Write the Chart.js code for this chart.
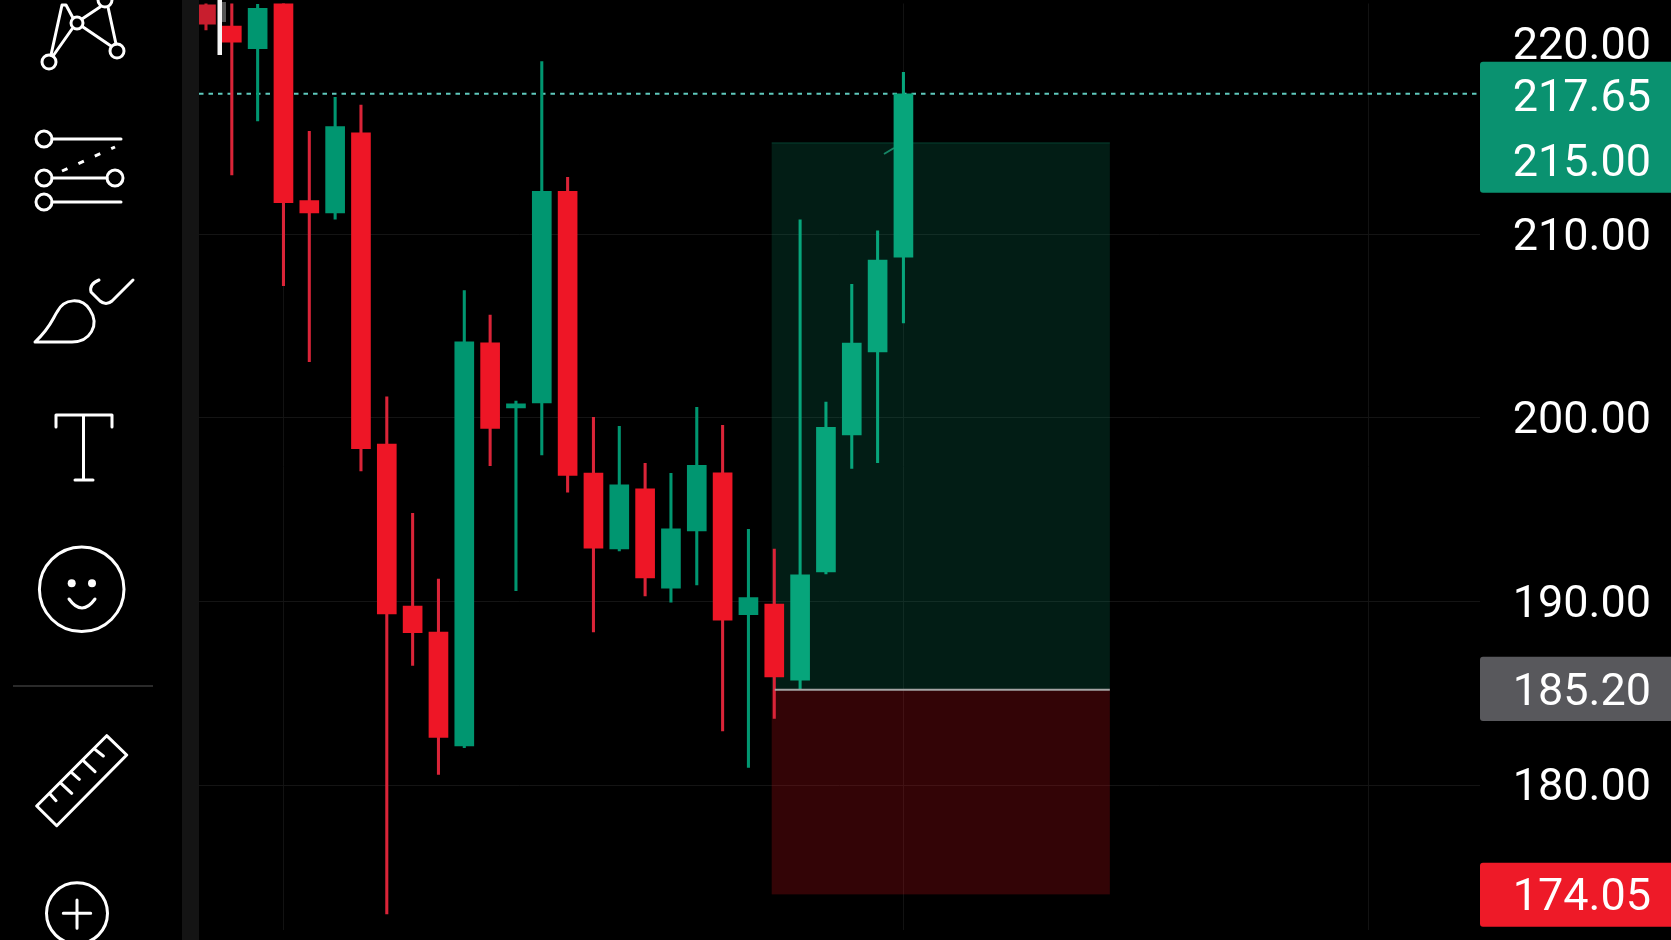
<!DOCTYPE html>
<html>
<head>
<meta charset="utf-8">
<title>Candles</title>
<script src="https://cdn.jsdelivr.net/npm/chart.js@4/dist/chart.umd.min.js"></script>
<style>
  html, body { margin: 0; padding: 0; background: #000; overflow: hidden; }
  #myChart { position: absolute; left: 0; top: 0; }
  #tools { position: absolute; left: 0; top: 0; pointer-events: none; }
  #tools .s { fill: none; stroke: #fff; stroke-width: 3; stroke-linecap: round; stroke-linejoin: round; }
</style>
</head>
<body>
<canvas id="myChart" width="1671" height="940"></canvas>
<svg id="tools" width="1671" height="940" viewBox="0 0 1671 940">
  <rect x="182" y="0" width="17" height="940" fill="#141414"/>
  <rect x="222" y="2" width="4" height="20" fill="#555"/>
  <rect x="217.5" y="0" width="4.5" height="55" fill="#f4f4f4"/>
  <!-- pattern -->
  <g class="s">
    <circle cx="49" cy="62" r="7"/><circle cx="117" cy="51" r="7"/><circle cx="77" cy="23" r="6"/><circle cx="105" cy="0" r="7"/>
    <path d="M51 55 L62 5 L66 5 L73 18 M53 56 L72 29 M82 19 L100 7 M83 27 L111 46 M108 7 L116 44"/>
  </g>
  <!-- lines -->
  <g class="s">
    <circle cx="44" cy="139" r="8"/><path d="M52 139 H121"/>
    <circle cx="44" cy="178" r="8"/><circle cx="115" cy="178" r="8"/><path d="M52 178 H107"/>
    <circle cx="44" cy="202" r="8"/><path d="M52 202 H121"/>
    <path d="M62 171 L115 147" stroke-dasharray="6 12" stroke-linecap="butt"/>
  </g>
  <!-- brush -->
  <g class="s">
    <path d="M35 342 C50 328 52 320 57 312 C64 298 82 297 90 310 C100 325 90 342 72 342 Z"/>
    <path d="M99 280 Q89 284 91 292 L100 301 Q106 306 112 301 L133 280"/>
  </g>
  <!-- text -->
  <g class="s">
    <path d="M56 427 V415 H112 V427 M83.5 415 V480 M75 480 H93"/>
  </g>
  <!-- emoji -->
  <g class="s">
    <circle cx="81.7" cy="589.3" r="42.3"/>
    <path d="M69 599 Q82 617 95 599"/>
  </g>
  <circle cx="71.7" cy="583.3" r="4" fill="#fff"/>
  <circle cx="92" cy="583.3" r="4" fill="#fff"/>
  <rect x="13" y="685" width="140" height="2" fill="#2a2a2a"/>
  <!-- ruler -->
  <g class="s">
    <path d="M106.7 735.7 L126.7 755 L56.7 825.7 L36.7 806 Z"/>
    <path d="M50 794 L56 800.7 M61 783.3 L71.7 793.3 M71.7 772.7 L79.3 779.3 M83.3 760.7 L95 771.7 M95 749.3 L103.3 756"/>
  </g>
  <!-- add -->
  <g class="s">
    <circle cx="77" cy="913.3" r="30.5"/>
    <path d="M63.3 913.3 H90.7 M77 900 V928.3"/>
  </g>
</svg>
<script>
const opens  = [222.50, 221.34, 220.11, 223.00, 211.83, 211.17, 215.53, 198.58, 189.75, 188.34, 182.14, 204.09, 200.54, 200.81, 212.34, 197.00, 192.87, 196.14, 190.73, 193.85, 197.01, 189.28, 189.86, 185.71, 191.61, 199.07, 203.60, 208.75];
const highs  = [222.60, 222.58, 222.53, 223.00, 215.61, 217.46, 217.04, 201.15, 194.80, 191.22, 206.93, 205.60, 200.92, 219.40, 213.10, 200.03, 199.54, 197.53, 196.98, 200.58, 199.60, 193.93, 192.86, 210.79, 200.86, 207.28, 210.19, 218.82];
const lows   = [221.13, 213.23, 216.17, 207.20, 203.06, 210.83, 197.11, 172.98, 186.52, 180.59, 182.04, 197.40, 190.59, 197.98, 195.95, 188.35, 192.75, 190.31, 189.97, 190.90, 182.95, 180.97, 183.64, 185.23, 191.51, 197.25, 197.56, 205.18];
const closes = [221.44, 220.46, 222.31, 211.72, 211.17, 215.86, 198.32, 189.32, 188.30, 182.60, 204.15, 199.43, 200.77, 212.34, 196.87, 192.90, 196.36, 191.28, 193.96, 197.42, 188.99, 190.21, 185.90, 191.46, 199.49, 204.08, 208.60, 217.65];

const priceTicks = [220, 210, 200, 190, 180];
const timeTicks = [3, 27, 45];

const lastPrice = 217.65;
const targetPrice = 215.00;
const entryPrice = 185.20;
const stopPrice = 174.05;
const zoneFrom = 21.9;
const zoneTo = 34.99;

const GREEN = '#009670';
const GREEN_ZONE = '#07a57b';
const RED = '#ee1626';
const xMin = -0.27, xMax = 49.32, yMin = 172.11, yMax = 222.57;

const candleColours = closes.map((c, i) => {
    if (i === 0) return '#c81e2e';
    if (c < opens[i]) return RED;
    return i > zoneFrom ? GREEN_ZONE : GREEN;
});
const wickColours = candleColours.map(c => c === RED ? '#da2438' : c);

const positionPlugin = {
    id: 'positionZone',
    beforeDatasetsDraw(chart) {
        const { ctx, scales: { x, y } } = chart;
        const left = x.getPixelForValue(zoneFrom), right = x.getPixelForValue(zoneTo);
        const top = y.getPixelForValue(targetPrice), mid = y.getPixelForValue(entryPrice), bottom = y.getPixelForValue(stopPrice);
        ctx.save();
        ctx.fillStyle = 'rgba(10,170,125,0.17)';
        ctx.fillRect(left, top, right - left, mid - top);
        ctx.fillStyle = 'rgba(230,20,28,0.22)';
        ctx.fillRect(left, mid, right - left, bottom - mid);
        ctx.fillStyle = 'rgba(20,150,115,0.3)';
        ctx.fillRect(left, top, right - left, 1);
        ctx.restore();
    },
    afterDatasetsDraw(chart) {
        const { ctx, scales: { x, y } } = chart;
        const mid = y.getPixelForValue(entryPrice);
        ctx.save();
        ctx.strokeStyle = '#a4a4a4';
        ctx.lineWidth = 2;
        ctx.beginPath();
        ctx.moveTo(x.getPixelForValue(22.02), mid);
        ctx.lineTo(x.getPixelForValue(zoneTo), mid);
        ctx.stroke();
        // small stray mark on the last candle
        ctx.strokeStyle = 'rgba(30,170,130,0.75)';
        ctx.beginPath();
        ctx.moveTo(884, 154);
        ctx.lineTo(894, 148);
        ctx.stroke();
        ctx.restore();
    }
};

const tagPlugin = {
    id: 'priceTags',
    afterDraw(chart) {
        const ctx = chart.ctx;
        const box = (top, h, colour) => {
            ctx.fillStyle = colour;
            ctx.beginPath();
            ctx.roundRect(1480, top, 200, h, 3);
            ctx.fill();
        };
        const label = (text, cy) => {
            ctx.fillStyle = '#fff';
            ctx.fillText(text, 1651, cy);
        };
        ctx.save();
        ctx.font = '45px Roboto';
        ctx.textAlign = 'right';
        ctx.textBaseline = 'middle';
        box(61.7, 131, '#0a9270');
        box(656.7, 64.3, '#58585c');
        box(862.7, 64, '#ee1a28');
        label('220.00', 48);
        label(lastPrice.toFixed(2), 100);
        label(targetPrice.toFixed(2), 165);
        label(entryPrice.toFixed(2), 694);
        label(stopPrice.toFixed(2), 899);
        ctx.restore();
    }
};

const config = {
    data: {
        datasets: [
            {
                type: 'bar',
                label: 'body',
                order: 1,
                grouped: false,
                barThickness: 19,
                data: opens.map((o, i) => ({ x: i, y: [o, closes[i]] })),
                backgroundColor: candleColours,
                borderWidth: 0
            },
            {
                type: 'bar',
                label: 'wick',
                order: 2,
                grouped: false,
                barThickness: 2.4,
                data: lows.map((l, i) => ({ x: i, y: [l, highs[i]] })),
                backgroundColor: wickColours,
                borderWidth: 0
            },
            {
                type: 'line',
                label: 'last',
                order: 3,
                data: [{ x: xMin, y: lastPrice }, { x: xMax, y: lastPrice }],
                borderColor: '#5fc9bd',
                borderWidth: 2,
                borderDash: [4.5, 5],
                pointRadius: 0
            }
        ]
    },
    options: {
        responsive: false,
        animation: false,
        layout: {
            padding: { left: 199, top: 3.5, right: 20, bottom: 10 }
        },
        plugins: {
            legend: { display: false },
            tooltip: { enabled: false }
        },
        scales: {
            x: {
                type: 'linear',
                min: xMin,
                max: xMax,
                offset: false,
                border: { display: false },
                grid: { color: '#121212', lineWidth: 1, drawTicks: false, offset: false },
                ticks: { display: false },
                afterBuildTicks: (axis) => { axis.ticks = timeTicks.map(v => ({ value: v })); }
            },
            y: {
                type: 'linear',
                position: 'right',
                min: yMin,
                max: yMax,
                border: { display: false },
                grid: {
                    color: (c) => c.tick && c.tick.value === 220 ? 'rgba(0,0,0,0)' : '#141414',
                    lineWidth: 1,
                    drawTicks: false
                },
                afterBuildTicks: (axis) => { axis.ticks = priceTicks.map(v => ({ value: v })); },
                afterFit: (axis) => { axis.width = 171; axis.paddingTop = 0; axis.paddingBottom = 0; },
                ticks: {
                    color: '#fff',
                    crossAlign: 'far',
                    autoSkip: false,
                    labelOffset: 4,
                    font: { family: 'Roboto', size: 45 },
                    callback: (v) => v === 220 ? '' : v.toFixed(2)
                }
            }
        }
    },
    plugins: [positionPlugin, tagPlugin]
};

const myChart = new Chart(document.getElementById('myChart'), config);
</script>
</body>
</html>
